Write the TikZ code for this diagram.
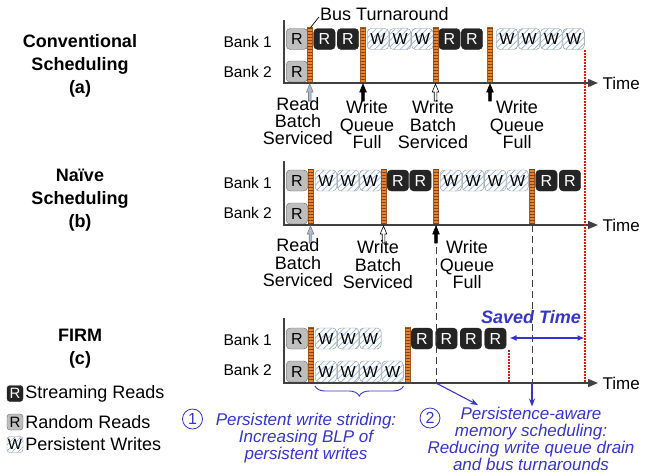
\documentclass[tikz,border=0pt]{standalone}
\usepackage{fontspec}
\setmainfont{Liberation Sans}
\usetikzlibrary{arrows.meta,patterns.meta,decorations.pathreplacing,positioning}
\definecolor{blk}{HTML}{242424}
\definecolor{gbox}{HTML}{BEBEBE}
\definecolor{hatch}{HTML}{8DB3E0}
\definecolor{bus}{HTML}{E8822E}
\definecolor{busline}{HTML}{7A3C0C}
\definecolor{axis}{HTML}{404040}
\definecolor{firm}{HTML}{3535CC}
\definecolor{mkb}{HTML}{A8BBDA}
\definecolor{cut}{HTML}{E8101A}
\tikzset{
  slot/.style={minimum width=21.5, minimum height=21, inner sep=0pt,
    rounded corners=4, font=\fontsize{16}{16}\selectfont},
  sread/.style={slot, fill=blk, draw=blk, text=white},
  rread/.style={slot, fill=gbox, draw=black!60},
  pwrite/.style={slot, draw=black!45, fill=white,
    postaction={pattern={Lines[angle=45,distance=4.5pt,line width=0.7pt]},
      pattern color=hatch}},
  busbar/.style={fill=bus, draw=bus!70!black, line width=0.4,
    postaction={pattern={Lines[angle=0,distance=3pt,line width=0.9pt]},
      pattern color=busline}},
  vaxis/.style={axis, line width=2.6},
  taxis/.style={axis, line width=1.4, -{Triangle[length=10,width=8]}},
  time/.style={right=4pt, inner sep=0pt, text=black, font=\fontsize{17}{17}\selectfont},
  bank/.style={anchor=east, inner sep=0pt, font=\fontsize{15.5}{15.5}\selectfont},
  title/.style={align=center, font=\bfseries\fontsize{18}{23}\selectfont},
  lbl/.style={anchor=north, align=center, inner sep=0pt,
    font=\fontsize{18}{17.3}\selectfont},
  note/.style={anchor=north, align=center, inner sep=0pt, text=firm,
    font=\itshape\fontsize{17}{17}\selectfont},
  num/.style={circle, draw=firm, fill=white, text=firm, line width=0.8,
    minimum size=20, inner sep=0pt, font=\fontsize{16}{16}\selectfont},
  mkblue/.style={fill=mkb, draw=black!50, line width=0.6},
  mkblack/.style={fill=black, draw=black, line width=0.6},
  mkopen/.style={fill=white, draw=black, line width=0.6},
  qline/.style={axis, line width=0.9, dash pattern=on 7pt off 4pt},
  saved/.style={draw=cut, line width=1.1, dash pattern=on 1.5pt off 1.5pt},
  ptr/.style={firm, line width=1.1, -{Stealth[length=8,width=6]}},
  legend/.style={minimum size=16, inner sep=0pt, rounded corners=3,
    font=\fontsize{15}{15}\selectfont}
}
% block arrow pointing up to the time axis
\newcommand{\upmark}[3]{\draw[#3] (#1,#2) -- ++(3.3,8) -- ++(-2,0) -- ++(0,9)
  -- ++(-2.6,0) -- ++(0,-9) -- ++(-2,0) -- cycle;}
\begin{document}
\begin{tikzpicture}[x=1pt,y=-1pt]
  \useasboundingbox (0,0) rectangle (648,475);
  % ---- (a) conventional
  \def\ax{83}
  \node[title] (Ta) at (80,66) {Conventional\\Scheduling\\(a)};
  \node[bank] (Ba1) at (272,42) {Bank 1};
  \node[bank] (Ba2) at (272,72) {Bank 2};
  \foreach \x/\s/\l [count=\i] in {286/rread/R,313.5/sread/R,337/sread/R,
    367/pwrite/W,389.2/pwrite/W,411.4/pwrite/W,438.5/sread/R,461/sread/R,
    496/pwrite/W,518.2/pwrite/W,540.4/pwrite/W,562.6/pwrite/W}
    \node[\s, anchor=west] (a1-\i) at (\x,39) {\l};
  \node[rread, anchor=west] (a2-1) at (286,71.5) {R};
  \foreach \x in {309.8,363,435.5,490}
    \draw[busbar] (\x-2.5,27.5) rectangle (\x+2.5,\ax);
  \draw[vaxis] (284,20) -- (284,\ax);
  \draw[taxis] (283,\ax) -- (598,\ax) node[time] (Ea) {Time};
  \upmark{309.8}{\ax+1}{mkblue}
  \upmark{363}{\ax+1}{mkblack}
  \upmark{435.5}{\ax+1}{mkopen}
  \upmark{490}{\ax+1}{mkblack}
  \node[lbl] (La1) at (298,97) {Read\\Batch\\Serviced};
  \node[lbl] (La2) at (367,100.5) {Write\\Queue\\Full};
  \node[lbl] (La3) at (433,100.5) {Write\\Batch\\Serviced};
  \node[lbl] (La4) at (517,100.5) {Write\\Queue\\Full};
  \node[anchor=west, inner sep=0pt, font=\fontsize{18}{18}\selectfont]
    (BT) at (320,14) {Bus Turnaround};
  \coordinate (BT0) at (310.5,27.5);
  \draw[line width=0.7] ([xshift=-1pt,yshift=-3pt]BT.west) -- (BT0);
  % ---- (b) naive
  \def\bx{225}
  \node[title] (Tb) at (80,200) {Naïve\\Scheduling\\(b)};
  \node[bank] (Bb1) at (272,183) {Bank 1};
  \node[bank] (Bb2) at (272,213) {Bank 2};
  \foreach \x/\s/\l [count=\i] in {286/rread/R,315/pwrite/W,337.2/pwrite/W,
    359.4/pwrite/W,387/sread/R,409.5/sread/R,440/pwrite/W,462.2/pwrite/W,
    484.4/pwrite/W,506.6/pwrite/W,535.5/sread/R,559/sread/R}
    \node[\s, anchor=west] (b1-\i) at (\x,180.5) {\l};
  \node[rread, anchor=west] (b2-1) at (286,213.5) {R};
  \foreach \x in {310.5,383.5,436,532}
    \draw[busbar] (\x-2.5,169) rectangle (\x+2.5,\bx);
  \draw[vaxis] (284,161) -- (284,\bx);
  \draw[taxis] (283,\bx) -- (598,\bx) node[time] (Eb) {Time};
  \upmark{310.5}{\bx+1}{mkblue}
  \upmark{383.5}{\bx+1}{mkopen}
  \node[lbl] (Lb1) at (298,238.5) {Read\\Batch\\Serviced};
  \node[lbl] (Lb2) at (378,240.5) {Write\\Batch\\Serviced};
  \node[lbl] (Lb3) at (467,240.5) {Write\\Queue\\Full};
  % ---- (c) FIRM
  \def\cx{383}
  \node[title] (Tc) at (80,348.5) {FIRM\\(c)};
  \node[bank] (Bc1) at (272,340) {Bank 1};
  \node[bank] (Bc2) at (272,370) {Bank 2};
  \foreach \x/\s/\l [count=\i] in {286/rread/R,315/pwrite/W,337.2/pwrite/W,
    359.4/pwrite/W,411/sread/R,435.5/sread/R,460/sread/R,484.5/sread/R}
    \node[\s, anchor=west] (c1-\i) at (\x,338.5) {\l};
  \foreach \x/\s/\l [count=\i] in {286/rread/R,315/pwrite/W,337.2/pwrite/W,
    359.4/pwrite/W,381.6/pwrite/W}
    \node[\s, anchor=west] (c2-\i) at (\x,371.5) {\l};
  \foreach \x in {311,407.5}
    \draw[busbar] (\x-2.5,327) rectangle (\x+2.5,\cx);
  \draw[vaxis] (284,318) -- (284,\cx);
  \draw[taxis] (283,\cx) -- (598,\cx) node[time] (Ec) {Time};
  % write queue full / drain points carried down
  \coordinate (Q1) at (436,\bx);
  \coordinate (Q2) at (532,\bx);
  \coordinate (D1) at (436,\cx);
  \coordinate (D2) at (532,\cx);
  \draw[qline] (Q1) -- (D1);
  \draw[qline] (Q2) -- (D2);
  \upmark{436}{\bx+1}{mkblack}
  % saved time
  \draw[saved] (585,50) -- (585,\cx);
  \draw[saved] (509,350) -- (509,\cx);
  \coordinate (S0) at (509.5,338);
  \coordinate (S1) at (584.5,338);
  \draw[firm, line width=1.3, {Latex[length=7,width=6]}-{Latex[length=7,width=6]}]
    (S0) -- (S1);
  \node[text=firm, font=\bfseries\itshape\fontsize{18}{18}\selectfont]
    (ST) at (531,317) {Saved Time};
  % notes
  \draw[firm, line width=0.9, decorate, decoration={brace, mirror, amplitude=10, raise=3}]
    (c2-2.west |- D1) -- (c2-5.east |- D1);
  \node[num] (N1) at (192.5,419) {1};
  \node[note] (M1) at (306,412.5) {Persistent write striding:\\Increasing BLP of\\persistent writes};
  \node[num] (N2) at (430,418) {2};
  \node[note] (M2) at (531,406.5) {Persistence-aware\\memory scheduling:\\Reducing write queue drain\\and bus turnarounds};
  \draw[ptr] (D1) -- (478,405);
  \draw[ptr] (D2) -- (M2.north -| D2);
  % legend
  \node[legend, fill=blk, draw=blk, text=white] (K1) at (15,393.5) {R};
  \node[legend, fill=gbox, draw=black!60] (K2) at (15,422) {R};
  \node[legend, draw=black!45, fill=white,
    postaction={pattern={Lines[angle=45,distance=4pt,line width=0.7pt]}, pattern color=hatch}]
    (K3) at (15,444.5) {W};
  \node[right=2pt of K1, inner sep=0pt, font=\fontsize{18}{18}\selectfont] {Streaming Reads};
  \node[right=2pt of K2, inner sep=0pt, font=\fontsize{18}{18}\selectfont] {Random Reads};
  \node[right=2pt of K3, inner sep=0pt, font=\fontsize{18}{18}\selectfont] {Persistent Writes};
\end{tikzpicture}
\end{document}
